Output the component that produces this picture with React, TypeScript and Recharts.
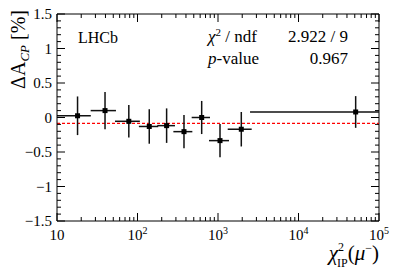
import React from 'react';
import { ComposedChart, Scatter, XAxis, YAxis, ErrorBar, ReferenceLine } from 'recharts';

// ---- data ----
const binCenter = [18, 39.5, 78, 140, 230, 378, 627, 1059, 1947, 51300];
const binLow = [10, 26.2, 52.5, 104, 176, 279, 471, 773, 1320, 2500];
const binHigh = [26.3, 54, 107, 181, 292, 480, 795, 1370, 2622, 100000];
const deltaACP = [0.025, 0.1, -0.055, -0.13, -0.118, -0.205, 0.0, -0.335, -0.17, 0.08];
const deltaACPErr = [0.28, 0.27, 0.235, 0.25, 0.25, 0.24, 0.24, 0.24, 0.25, 0.23];
const fitValue = -0.085;

const xMajorTicks = [10, 100, 1000, 10000, 100000];
const xTickExponents = ['', '2', '3', '4', '5'];
const xMinorMultipliers = [2, 3, 4, 5, 6, 7, 8, 9];
const yMajorTicks = [-1.5, -1, -0.5, 0, 0.5, 1, 1.5];
const yTickLabels = ['\u22121.5', '\u22121', '\u22120.5', '0', '0.5', '1', '1.5'];

const statsValues = ['2.922 / 9', '0.967'];

// ---- layout ----
const W = 399;
const H = 270;
const MARGIN = { top: 14, right: 20, left: 0, bottom: 0 };
const Y_AXIS_W = 57;
const X_AXIS_H = 49;
const PLOT_TOP = MARGIN.top;
const PLOT_RIGHT = W - MARGIN.right;
const FONT = '"Liberation Serif", "Times New Roman", serif';
const TXT = { fontFamily: FONT };

const rows = binCenter.map((x, i) => ({
  x,
  y: deltaACP[i],
  ey: deltaACPErr[i],
  ex: [x - binLow[i], binHigh[i] - x],
}));

const xTicks: number[] = [];
xMajorTicks.forEach((d, i) => {
  xTicks.push(d);
  if (i < xMajorTicks.length - 1) xMinorMultipliers.forEach((m) => xTicks.push(d * m));
});
const yTicks: number[] = Array.from({ length: 31 }, (_, i) => Math.round(-15 + i) / 10);

const XTick = (props: any) => {
  const { x, y, payload } = props;
  const v = payload.value;
  const idx = xMajorTicks.findIndex((t) => Math.abs(t - v) / t < 1e-6);
  const len = idx >= 0 ? 8 : 4;
  const exp = idx >= 0 ? xTickExponents[idx] : '';
  return (
    <g>
      <line x1={x} y1={y} x2={x} y2={y - len} stroke="#000" strokeWidth={1} />
      <line x1={x} y1={PLOT_TOP} x2={x} y2={PLOT_TOP + len} stroke="#000" strokeWidth={1} />
      {idx >= 0 && (
        <text x={x} y={y + 19} textAnchor="middle" style={TXT} fontSize={15} fill="#000">
          10
          {exp && (
            <tspan dy={-6} fontSize={10}>
              {exp}
            </tspan>
          )}
        </text>
      )}
    </g>
  );
};

const YTick = (props: any) => {
  const { x, y, payload } = props;
  const v = payload.value;
  const idx = yMajorTicks.findIndex((t) => Math.abs(t - v) < 1e-6);
  const len = idx >= 0 ? 8 : 4;
  return (
    <g>
      <line x1={x} y1={y} x2={x + len} y2={y} stroke="#000" strokeWidth={1} />
      <line x1={PLOT_RIGHT} y1={y} x2={PLOT_RIGHT - len} y2={y} stroke="#000" strokeWidth={1} />
      {idx >= 0 && (
        <text x={x - 5} y={y} dy="0.35em" textAnchor="end" style={TXT} fontSize={15} fill="#000">
          {yTickLabels[idx]}
        </text>
      )}
    </g>
  );
};

const Marker = (props: any) => {
  const { cx, cy } = props;
  return <rect x={cx - 2.5} y={cy - 2.5} width={5} height={5} fill="#000" />;
};

export default function App() {
  return (
    <div style={{ position: 'absolute', left: 0, top: 0, background: '#fff', fontFamily: FONT }}>
      <ComposedChart width={W} height={H} margin={MARGIN} style={TXT}>
        <XAxis
          dataKey="x"
          type="number"
          scale="log"
          domain={[10, 100000]}
          allowDataOverflow
          ticks={xTicks}
          interval={0}
          tick={<XTick />}
          tickLine={false}
          tickSize={0}
          tickMargin={0}
          height={X_AXIS_H}
          axisLine={{ stroke: '#000', strokeWidth: 1 }}
        />
        <YAxis
          type="number"
          domain={[-1.5, 1.5]}
          allowDataOverflow
          ticks={yTicks}
          interval={0}
          tick={<YTick />}
          tickLine={false}
          tickSize={0}
          tickMargin={0}
          width={Y_AXIS_W}
          axisLine={{ stroke: '#000', strokeWidth: 1 }}
        />
        <ReferenceLine y={1.5} stroke="#000" strokeWidth={1} />
        <ReferenceLine x={100000} stroke="#000" strokeWidth={1} />
        <ReferenceLine y={fitValue} stroke="#ff0000" strokeWidth={1.3} strokeDasharray="3 2" />
        <Scatter data={rows} dataKey="y" shape={<Marker />} isAnimationActive={false}>
          <ErrorBar dataKey="ex" direction="x" width={0} stroke="#111" strokeWidth={1.5} isAnimationActive={false} />
          <ErrorBar dataKey="ey" direction="y" width={0} stroke="#111" strokeWidth={1.5} isAnimationActive={false} />
        </Scatter>
      </ComposedChart>
      <svg width={W} height={H} style={{ position: 'absolute', left: 0, top: 0, pointerEvents: 'none', fontFamily: FONT }}>
        <text x={78} y={43} fontSize={16} fill="#000">LHCb</text>
        <text x={208} y={42} fontSize={17} fill="#000">
          <tspan fontStyle="italic">{'\u03c7'}</tspan>
          <tspan dy={-6} fontSize={11}>2</tspan>
          <tspan dy={6}>{' / ndf'}</tspan>
        </text>
        <text x={208} y={64} fontSize={17} fill="#000">
          <tspan fontStyle="italic">p</tspan>
          <tspan>-value</tspan>
        </text>
        <text x={348} y={42} textAnchor="end" fontSize={17} fill="#000">{statsValues[0]}</text>
        <text x={348} y={64} textAnchor="end" fontSize={17} fill="#000">{statsValues[1]}</text>
        <text x={25} y={10} transform="rotate(-90 25 10)" textAnchor="end" fontSize={20} fill="#000">
          {'\u0394A'}
          <tspan fontStyle="italic" fontSize={13} dy={4}>CP</tspan>
          <tspan dy={-4}>{' [%]'}</tspan>
        </text>
        <text x={379} y={260} textAnchor="end" fontSize={21} fill="#000">
          <tspan fontStyle="italic">{'\u03c7'}</tspan>
          <tspan fontSize={12} dy={-9}>2</tspan>
          <tspan fontSize={12} dx={-7} dy={16}>IP</tspan>
          <tspan dy={-7}>(</tspan>
          <tspan fontStyle="italic">{'\u03bc'}</tspan>
          <tspan fontSize={12} dy={-8}>{'\u2212'}</tspan>
          <tspan dy={8}>)</tspan>
        </text>
      </svg>
    </div>
  );
}
